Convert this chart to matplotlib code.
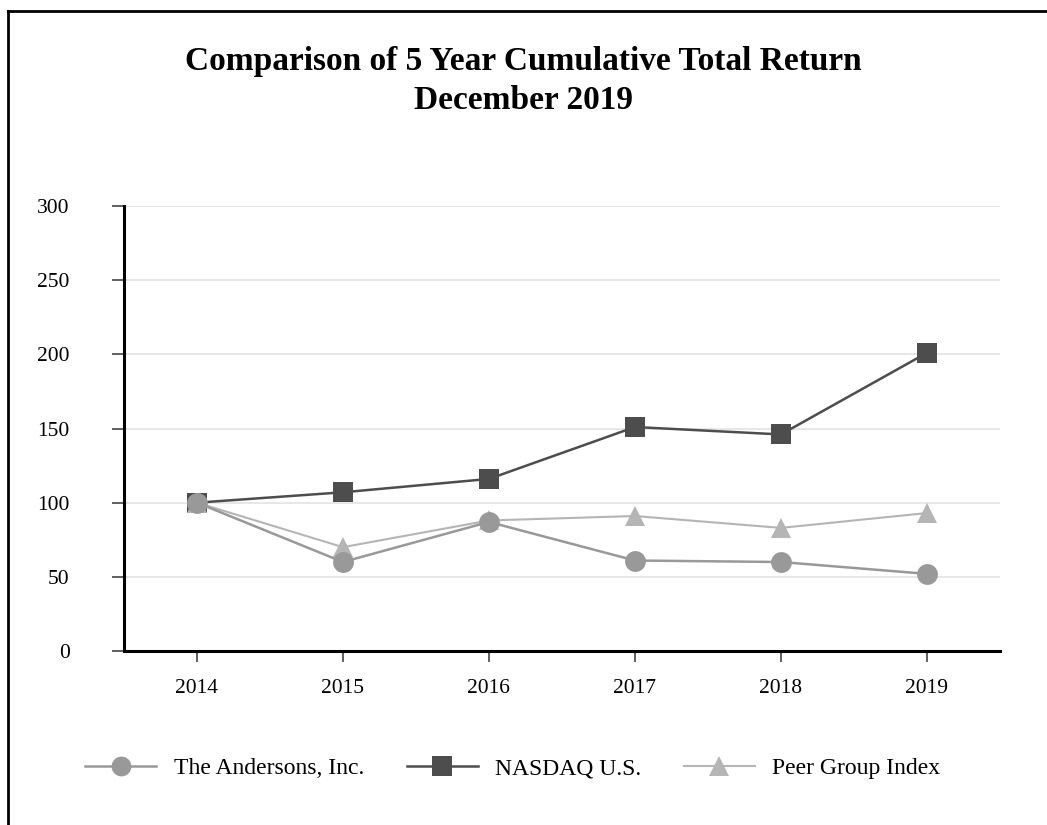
import matplotlib
matplotlib.use("Agg")
import matplotlib.pyplot as plt
from matplotlib.lines import Line2D

plt.rcParams['font.family'] = ['Liberation Serif', 'DejaVu Serif']

years = [2014, 2015, 2016, 2017, 2018, 2019]
andersons = [100, 60, 87, 61, 60, 52]
nasdaq = [100, 107, 116, 151, 146, 201]
peer = [100, 70, 88, 91, 83, 93]
yticks = [0, 50, 100, 150, 200, 250, 300]

fig = plt.figure(figsize=(10.47, 8.25), dpi=100)
ax = fig.add_axes([0.1184, 0.2109, 0.8366, 0.5394])

ax.plot(years, peer, color="#b5b5b5", linewidth=1.5, marker="^", markersize=15,
        markeredgewidth=0, label="Peer Group Index", zorder=3)
ax.plot(years, andersons, color="#999999", linewidth=1.8, marker="o", markersize=15,
        markeredgewidth=0, label="The Andersons, Inc.", zorder=4)
ax.plot(years, nasdaq, color="#4d4d4d", linewidth=1.8, marker="s", markersize=15,
        markeredgewidth=0, label="NASDAQ U.S.", zorder=2)

ax.set_xlim(2013.5, 2019.5)
ax.set_ylim(0, 300)
ax.set_yticks(yticks)
ax.set_xticks(years)
ax.grid(axis="y", color="#e3e3e3", linewidth=1.2)
ax.set_axisbelow(True)

for s in ["top", "right"]:
    ax.spines[s].set_visible(False)
for s in ["left", "bottom"]:
    ax.spines[s].set_linewidth(2.2)
    ax.spines[s].set_color("black")

ax.tick_params(axis="y", length=9, width=1.2, color="#444444", pad=30, labelsize=15.5)
ax.tick_params(axis="x", length=8, width=1.2, color="#444444", pad=12, labelsize=15.5)

fig.text(0.5, 0.925, "Comparison of 5 Year Cumulative Total Return",
         ha="center", va="center", fontsize=24, fontweight="bold")
fig.text(0.5, 0.878, "December 2019",
         ha="center", va="center", fontsize=24, fontweight="bold")

handles, labels = ax.get_legend_handles_labels()
order = [1, 2, 0]
ax.legend([handles[i] for i in order], [labels[i] for i in order],
          loc="center", bbox_to_anchor=(0.49, 0.0685), bbox_transform=fig.transFigure,
          ncol=3, frameon=False, fontsize=17, handlelength=3.0, handletextpad=0.75,
          columnspacing=1.8, markerscale=0.95)

# outer frame lines (top and left)
fig.add_artist(Line2D([0.008, 1.0], [0.987, 0.987], transform=fig.transFigure,
                      color="black", linewidth=2))
fig.add_artist(Line2D([0.008, 0.008], [0.0, 0.987], transform=fig.transFigure,
                      color="black", linewidth=2))

fig.savefig("out.png", dpi=100)
